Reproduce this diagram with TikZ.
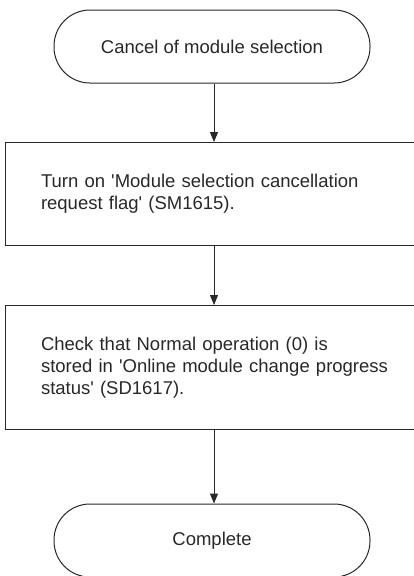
\documentclass[tikz,border=0pt]{standalone}
\usepackage{fontspec}
\setmainfont{Liberation Sans}
\usetikzlibrary{arrows.meta}
\definecolor{ink}{RGB}{40,40,40}
\newcommand{\sq}{\textquotesingle}
\begin{document}
\begin{tikzpicture}[x=1pt,y=-1pt,
  every node/.style={font=\fontsize{18.5}{22}\selectfont, text=ink},
  terminal/.style={draw=ink, line width=1pt, rectangle, rounded corners=36pt,
    minimum width=316pt, minimum height=73pt, inner sep=0pt},
  stepbox/.style={draw=ink, line width=1pt, rectangle, anchor=north west,
    text width=370pt, align=left, inner xsep=35.5pt, inner ysep=0pt},
  flow/.style={draw=ink, line width=1pt, -{Triangle[width=8pt,length=10pt]}}]
\useasboundingbox (0,0) rectangle (413,576);
\node[terminal] (t1) at (212,46.5) {Cancel of module selection};
\node[stepbox, minimum height=103pt] (b1) at (5,142)
  {Turn on \sq Module selection cancellation\\request flag\sq{} (SM1615).};
\node[stepbox, minimum height=124pt] (b2) at (5,305)
  {Check that Normal operation (0) is\\stored in \sq Online module change progress\\status\sq{} (SD1617).};
\node[terminal] (t2) at (212,540.5) {Complete};
\coordinate (a1) at ([xshift=2pt]t1.south);
\draw[flow] (a1) -- (a1 |- b1.north);
\draw[flow] (a1 |- b1.south) -- (a1 |- b2.north);
\draw[flow] (a1 |- b2.south) -- (a1 |- t2.north);
\end{tikzpicture}
\end{document}
